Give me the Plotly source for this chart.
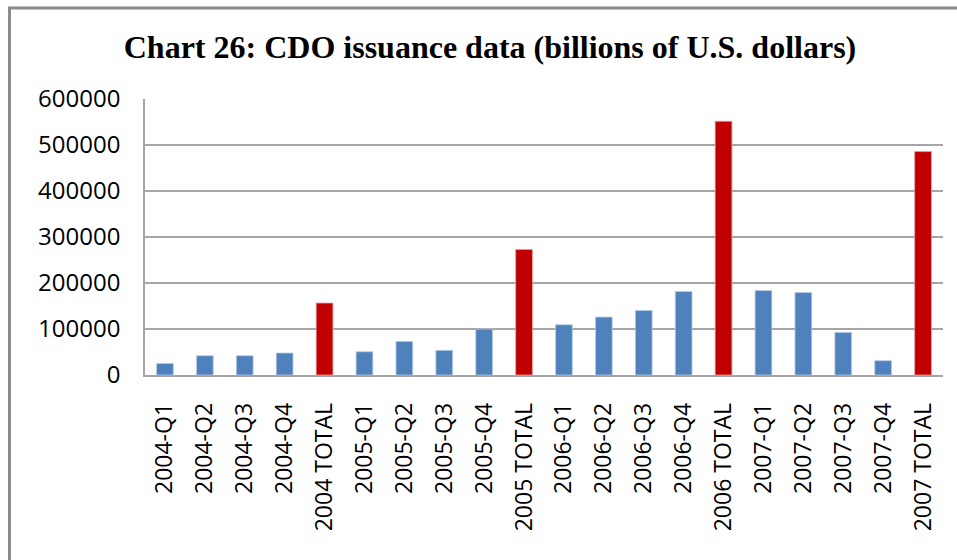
import plotly.graph_objects as go

# CDO issuance by quarter, with yearly totals (billions of U.S. dollars)
categories = [
    "2004-Q1", "2004-Q2", "2004-Q3", "2004-Q4", "2004 TOTAL",
    "2005-Q1", "2005-Q2", "2005-Q3", "2005-Q4", "2005 TOTAL",
    "2006-Q1", "2006-Q2", "2006-Q3", "2006-Q4", "2006 TOTAL",
    "2007-Q1", "2007-Q2", "2007-Q3", "2007-Q4", "2007 TOTAL",
]
issuance = [
    25200, 41900, 41900, 47800, 156400,
    50600, 73100, 53600, 99900, 272900,
    109200, 125900, 140400, 181700, 551600,
    183800, 179500, 92600, 31100, 485700,
]
y_ticks = [0, 100000, 200000, 300000, 400000, 500000, 600000]

QUARTER_COLOR = "#4F81BD"
TOTAL_COLOR = "#C00000"
bar_colors = [TOTAL_COLOR if "TOTAL" in c else QUARTER_COLOR for c in categories]
edge_colors = ["#E6A0A0" if "TOTAL" in c else "#B9CDE5" for c in categories]

fig = go.Figure(
    go.Bar(
        x=categories,
        y=issuance,
        marker=dict(color=bar_colors, line=dict(color=edge_colors, width=0.8)),
        hoverinfo="x+y",
    )
)

# plot area geometry (pixels)
L, R, T, B = 145, 943, 99, 375
W, H = 957, 560
pw, ph = R - L, B - T

fig.update_layout(
    width=W,
    height=H,
    margin=dict(l=L, r=W - R, t=T, b=H - B, pad=0),
    paper_bgcolor="white",
    plot_bgcolor="white",
    bargap=0.58,
    showlegend=False,
    title=dict(
        text="<b>Chart 26: CDO issuance data (billions of U.S. dollars)</b>",
        font=dict(family="Liberation Serif", size=32, color="black"),
        x=490 / W,
        xanchor="center",
        xref="container",
        y=1 - 47 / H,
        yanchor="middle",
        yref="container",
    ),
    font=dict(family="Open Sans", size=24, color="black"),
    shapes=[
        # outer chart frame, running off the right and bottom edges
        dict(
            type="rect",
            xref="paper",
            yref="paper",
            x0=(9.5 - L) / pw,
            x1=(W + 20 - L) / pw,
            y0=(B - (H + 20)) / ph,
            y1=(B - 8) / ph,
            line=dict(color="#8C8C8C", width=3),
            fillcolor="rgba(0,0,0,0)",
            layer="below",
        )
    ],
)

fig.update_xaxes(
    type="category",
    categoryorder="array",
    categoryarray=categories,
    tickangle=-90,
    tickfont=dict(family="Open Sans", size=23, color="black"),
    showline=True,
    linecolor="#A6A6A6",
    linewidth=1.5,
    ticks="",
    ticklabelstandoff=17,
    showgrid=False,
    fixedrange=True,
)

fig.update_yaxes(
    range=[0, 600000],
    tickvals=y_ticks,
    ticktext=[str(v) for v in y_ticks],
    tickfont=dict(family="Open Sans", size=24, color="black"),
    showgrid=True,
    gridcolor="#A6A6A6",
    gridwidth=1.5,
    showline=True,
    linecolor="#A6A6A6",
    linewidth=1.5,
    ticks="",
    ticklabelstandoff=18,
    zeroline=False,
    fixedrange=True,
)

fig.write_html("out.html")
